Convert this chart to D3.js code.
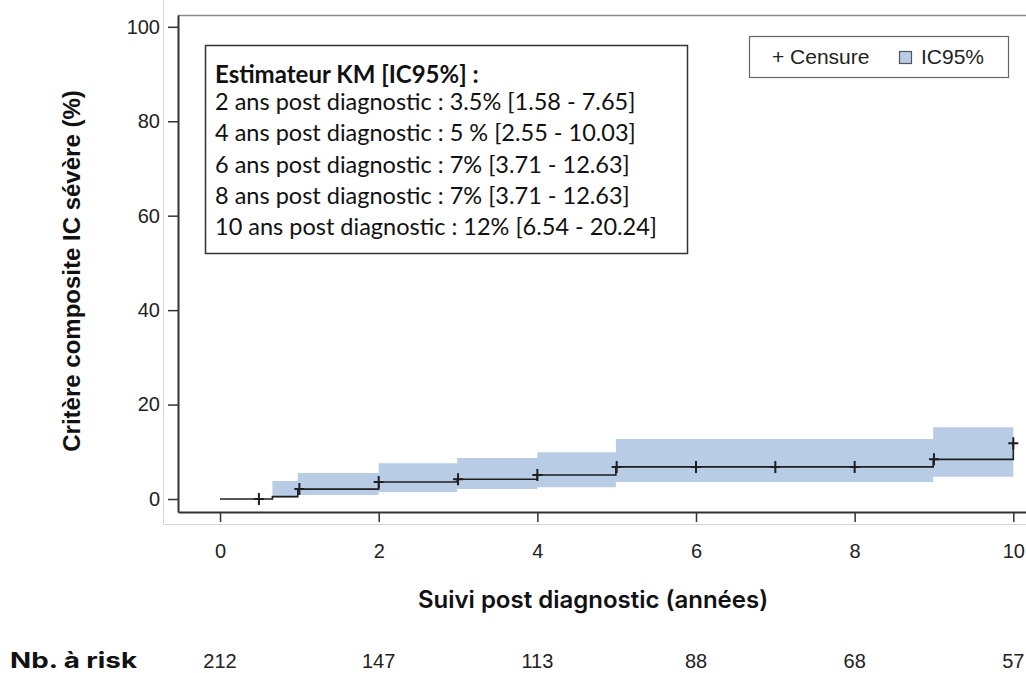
<!DOCTYPE html>
<html>
<head>
<meta charset="utf-8">
<script src="https://cdn.jsdelivr.net/npm/d3@7"></script>
<style>
  html, body { margin: 0; padding: 0; background: #fff; }
  svg { display: block; }
</style>
</head>
<body>
<div id="km-chart"></div>
<script>
// Kaplan-Meier step estimate (%)
const stepTimes = [0, 0.66, 0.98, 2.0, 2.99, 4.0, 4.99, 8.99, 10.0];
const stepValues = [0, 0.5, 2.1, 3.6, 4.2, 5.1, 6.8, 8.4, 11.8];

// 95% confidence band (step after)
const ciTimes = [0.66, 0.98, 2.0, 2.99, 4.0, 4.99, 8.99, 10.0];
const ciLower = [0.3, 0.85, 1.5, 2.1, 2.5, 3.6, 4.7, 4.7];
const ciUpper = [3.8, 5.5, 7.6, 8.7, 9.9, 12.7, 15.2, 15.2];

// censored observations
const censorTimes = [0.49, 1.0, 2.0, 3.0, 4.0, 5.0, 6.0, 7.0, 8.0, 9.0, 10.0];

const xTicks = [0, 2, 4, 6, 8, 10];
const yTicks = [0, 20, 40, 60, 80, 100];
const riskYears = [0, 2, 4, 6, 8, 10];
const riskCounts = [212, 147, 113, 88, 68, 57];

const kmTitle = 'Estimateur KM [IC95%] :';
const kmLines = [
  '2 ans post diagnostic : 3.5% [1.58 - 7.65]',
  '4 ans post diagnostic : 5 % [2.55 - 10.03]',
  '6 ans post diagnostic : 7% [3.71 - 12.63]',
  '8 ans post diagnostic : 7% [3.71 - 12.63]',
  '10 ans post diagnostic : 12% [6.54 - 20.24]',
];

const width = 1026;
const height = 673;
const plot = { left: 178, right: 1026, top: 15, bottom: 512 };
const bandColor = '#b8cde5';
const lineColor = '#1e1e1e';
const axisColor = '#333';
const sansFont = '"Liberation Sans", Arial, sans-serif';

const svg = d3.select('#km-chart').append('svg')
  .attr('width', width)
  .attr('height', height)
  .style('background', '#fff');

const x = d3.scaleLinear().domain([-0.53, 10.16]).range([plot.left, plot.right]);
const y = d3.scaleLinear().domain([-2.75, 102.5]).range([plot.bottom, plot.top]);

// faint outer frame of the original figure
svg.append('path')
  .attr('d', `M163.5,0V524.5H${width}`)
  .attr('fill', 'none')
  .attr('stroke', '#d6d6d6')
  .attr('stroke-width', 1);

// top border of the plot
svg.append('line')
  .attr('x1', plot.left).attr('x2', plot.right)
  .attr('y1', plot.top + 0.5).attr('y2', plot.top + 0.5)
  .attr('stroke', '#8a8a8a')
  .attr('stroke-width', 1.5);

// confidence band
const ciData = ciTimes.map((t, i) => ({ t, lo: ciLower[i], hi: ciUpper[i] }));
svg.append('path')
  .datum(ciData)
  .attr('fill', bandColor)
  .attr('d', d3.area()
    .curve(d3.curveStepAfter)
    .x((d) => x(d.t))
    .y0((d) => y(d.lo))
    .y1((d) => y(d.hi)));

// KM step line
const stepData = stepTimes.map((t, i) => ({ t, v: stepValues[i] }));
svg.append('path')
  .datum(stepData)
  .attr('fill', 'none')
  .attr('stroke', lineColor)
  .attr('stroke-width', 1.6)
  .attr('d', d3.line()
    .curve(d3.curveStepAfter)
    .x((d) => x(d.t))
    .y((d) => y(d.v)));

// censor marks
const valueAt = (t) => {
  const i = d3.bisectRight(stepTimes, t + 0.02) - 1;
  return stepValues[Math.max(0, i)];
};
svg.append('g')
  .selectAll('path')
  .data(censorTimes)
  .join('path')
  .attr('stroke', lineColor)
  .attr('stroke-width', 2)
  .attr('fill', 'none')
  .attr('d', (t) => {
    const cx = x(t);
    const cy = y(valueAt(t));
    return `M${cx - 5},${cy}H${cx + 5}M${cx},${cy - 6}V${cy + 6}`;
  });

// axes
const xAxis = svg.append('g')
  .attr('transform', `translate(0,${plot.bottom})`)
  .call(d3.axisBottom(x).tickValues(xTicks).tickSize(10).tickPadding(22).tickSizeOuter(0));
xAxis.select('.domain').attr('stroke', axisColor).attr('stroke-width', 2);
xAxis.selectAll('.tick line').attr('stroke', axisColor).attr('stroke-width', 1.5);
xAxis.selectAll('.tick text')
  .attr('fill', '#222')
  .style('font-family', sansFont)
  .style('font-size', '20px');

const yAxis = svg.append('g')
  .attr('transform', `translate(${plot.left},0)`)
  .call(d3.axisLeft(y).tickValues(yTicks).tickSize(10).tickPadding(8).tickSizeOuter(0));
yAxis.select('.domain').attr('stroke', axisColor).attr('stroke-width', 2);
yAxis.selectAll('.tick line').attr('stroke', axisColor).attr('stroke-width', 1.5);
yAxis.selectAll('.tick text')
  .attr('fill', '#222')
  .style('font-family', sansFont)
  .style('font-size', '20px');

// axis titles
svg.append('text')
  .attr('transform', 'translate(80,271) rotate(-90)')
  .attr('text-anchor', 'middle')
  .attr('fill', '#111')
  .style('font-family', sansFont)
  .style('font-weight', 'bold')
  .style('font-size', '24px')
  .text('Critère composite IC sévère (%)');

svg.append('text')
  .attr('x', 593)
  .attr('y', 608)
  .attr('text-anchor', 'middle')
  .attr('fill', '#111')
  .style('font-family', 'Inter, "Liberation Sans", sans-serif')
  .style('font-weight', 600)
  .style('font-size', '24px')
  .text('Suivi post diagnostic (années)');

// number at risk
svg.append('text')
  .attr('x', 10)
  .attr('y', 668)
  .attr('fill', '#111')
  .attr('textLength', 127)
  .attr('lengthAdjust', 'spacingAndGlyphs')
  .style('font-family', 'Inter, "Liberation Sans", sans-serif')
  .style('font-weight', 700)
  .style('font-size', '22px')
  .text('Nb. à risk');

svg.append('g')
  .selectAll('text')
  .data(riskYears)
  .join('text')
  .attr('x', (d) => x(d))
  .attr('y', 668)
  .attr('text-anchor', 'middle')
  .attr('fill', '#222')
  .style('font-family', sansFont)
  .style('font-size', '20px')
  .text((d, i) => riskCounts[i]);

// KM annotation box
const box = svg.append('g');
box.append('rect')
  .attr('x', 205.5).attr('y', 45.5)
  .attr('width', 482).attr('height', 208)
  .attr('fill', '#fff')
  .attr('stroke', '#333')
  .attr('stroke-width', 1.5);
box.append('text')
  .attr('x', 215)
  .attr('y', 83)
  .attr('fill', '#111')
  .style('font-family', 'Lato, "Open Sans", sans-serif')
  .style('font-weight', 'bold')
  .style('font-size', '24px')
  .text(kmTitle);
box.selectAll('text.line')
  .data(kmLines)
  .join('text')
  .attr('class', 'line')
  .attr('x', 215)
  .attr('y', (d, i) => 110 + i * 31.3)
  .attr('fill', '#111')
  .style('font-family', 'Lato, "Open Sans", sans-serif')
  .style('font-size', '23.5px')
  .text((d) => d);

// legend
const legend = svg.append('g');
legend.append('rect')
  .attr('x', 749.5).attr('y', 36.5)
  .attr('width', 259).attr('height', 41)
  .attr('fill', '#fff')
  .attr('stroke', '#666')
  .attr('stroke-width', 1.2);
legend.append('text')
  .attr('x', 772)
  .attr('y', 64)
  .attr('fill', '#222')
  .style('font-family', sansFont)
  .style('font-size', '21px')
  .text('+ Censure');
legend.append('rect')
  .attr('x', 899.5).attr('y', 51.5)
  .attr('width', 12).attr('height', 12)
  .attr('fill', bandColor)
  .attr('stroke', '#555')
  .attr('stroke-width', 1.2);
legend.append('text')
  .attr('x', 921)
  .attr('y', 64)
  .attr('fill', '#222')
  .style('font-family', sansFont)
  .style('font-size', '21px')
  .text('IC95%');
</script>
</body>
</html>
